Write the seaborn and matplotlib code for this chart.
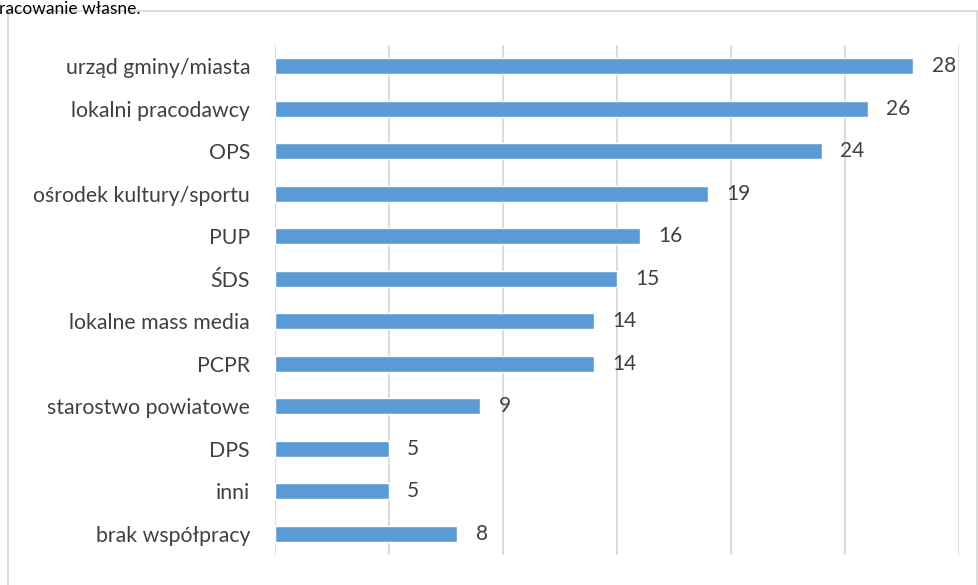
import matplotlib.pyplot as plt
import matplotlib.patches as mpatches
import seaborn as sns
import pandas as pd

# Data
categories = ['urząd gminy/miasta', 'lokalni pracodawcy', 'OPS', 'ośrodek kultury/sportu',
              'PUP', 'ŚDS', 'lokalne mass media', 'PCPR', 'starostwo powiatowe',
              'DPS', 'inni', 'brak współpracy']
values = [28, 26, 24, 19, 16, 15, 14, 14, 9, 5, 5, 8]

df = pd.DataFrame({'kategoria': categories, 'liczba': values})

sns.set_style('white')
plt.rcParams['font.family'] = ['Lato', 'DejaVu Sans']

W, H = 979, 585
fig = plt.figure(figsize=(W / 100, H / 100), dpi=100)
ax = fig.add_axes([275 / W, (H - 555) / H, (959 - 275) / W, 510 / H])

bar_color = '#5b9bd5'
text_color = '#404040'

sns.barplot(data=df, x='liczba', y='kategoria', orient='h', color=bar_color,
            width=0.38, saturation=1, ax=ax, zorder=3)

ax.set_xlim(0, 30)
ax.set_ylim(len(categories) - 0.5, -0.5)
ax.set_xticks(range(0, 31, 5))
ax.set_xticklabels([])
ax.tick_params(axis='x', length=0)
ax.tick_params(axis='y', length=0, labelsize=15.3, labelcolor=text_color, pad=18)
ax.grid(axis='x', color='#d9d9d9', linewidth=1.3, zorder=0)
ax.set_xlabel('')
ax.set_ylabel('')
for s in ax.spines.values():
    s.set_visible(False)

# value labels
for i, v in enumerate(values):
    ax.text(v + 0.8, i, str(v), va='center', ha='left', fontsize=15, color=text_color)

# outer frame and source note
fig.patches.append(mpatches.Rectangle((8 / W, -0.01), (977 - 8) / W, 1 - 11 / H + 0.01,
                                      transform=fig.transFigure, fill=False,
                                      edgecolor='#d9d9d9', linewidth=1.3))
fig.text(-1 / W, 1 - 0.5 / H, 'racowanie własne.', ha='left', va='top',
         fontsize=12.5, color='black')

fig.savefig('out.png', dpi=100)
